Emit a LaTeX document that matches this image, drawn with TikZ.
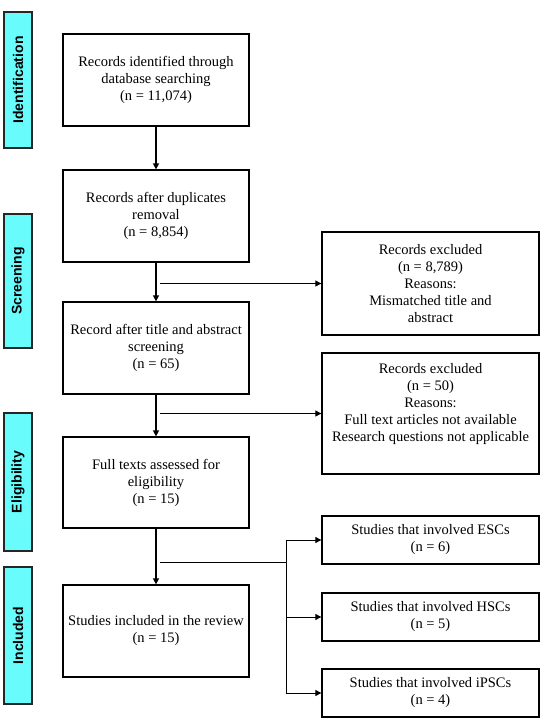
\documentclass[tikz,border=0pt]{standalone}
\usepackage{fontspec}
\setmainfont{Liberation Serif}
\newfontfamily\barfont{Liberation Sans}
\usepackage{xcolor}
\usetikzlibrary{arrows.meta, positioning}
\definecolor{stagecyan}{RGB}{105,252,252}
\tikzset{
	stagebar/.style={draw=black!85, line width=1.4pt, fill=stagecyan, rotate=90, minimum height=28pt, inner sep=0pt, font=\barfont\bfseries\fontsize{14}{17}\selectfont},
	mainbox/.style={draw, line width=1.3pt, minimum width=186pt, align=center, inner sep=2pt, font=\fontsize{14.5}{17}\selectfont},
	sidebox/.style={mainbox, minimum width=217pt},
	trunk/.style={line width=1.5pt, -{Triangle[length=6pt,width=6pt]}},
	branch/.style={line width=0.9pt},
	tip/.style={-{Triangle[length=6pt,width=6pt]}},
}

\begin{document}
\begin{tikzpicture}[x=1pt, y=-1pt]
			\useasboundingbox (0,0) rectangle (547,720);
			% Stages
			\node[stagebar, minimum width=136pt] (ident) at (18,80) {Identification};
			\node[stagebar, minimum width=134pt] (screen) at (18,281) {Screening};
			\node[stagebar, minimum width=138pt] (elig) at (18,482) {Eligibility};
			\node[stagebar, minimum width=137pt] (incl) at (18,635.5) {Included};
			
			% Main column
			\node[mainbox, minimum height=92pt] (found) at (156,80) {Records identified through\\database searching\\(n = 11,074)};
			\node[mainbox, minimum height=92pt] (dedup) at (156,216) {Records after duplicates\\removal\\(n = 8,854)};
			\node[mainbox, minimum height=92pt] (screened) at (156,348) {Record after title and abstract\\screening\\(n = 65)};
			\node[mainbox, minimum height=91pt] (assessed) at (156,482.5) {Full texts assessed for\\eligibility\\(n = 15)};
			\node[mainbox, minimum height=92pt] (included) at (156,631) {Studies included in the review\\(n = 15)};
			
			% Exclusions and groups
			\node[sidebox, minimum height=103pt] (excla) at (430.5,283.5) {Records excluded\\(n = 8,789)\\Reasons:\\Mismatched title and\\abstract};
			\node[sidebox, minimum height=121pt] (exclb) at (430.5,413.5) {Records excluded\\(n = 50)\\Reasons:\\Full text articles not available\\Research questions not applicable\\\strut};
			\node[sidebox, minimum height=48pt] (esc) at (430.5,540) {Studies that involved ESCs\\(n = 6)};
			\node[sidebox, minimum height=48pt] (hsc) at (430.5,617) {Studies that involved HSCs\\(n = 5)};
			\node[sidebox, minimum height=48pt] (ipsc) at (430.5,693) {Studies that involved iPSCs\\(n = 4)};
			
			% Arrows
			\draw[trunk] (found) -- (dedup);
			\draw[trunk] (dedup) -- (screened);
			\draw[trunk] (screened) -- (assessed);
			\draw[trunk] (assessed) -- (included);
			\draw[branch, tip] ([xshift=4pt]dedup.south |- excla.west) -- (excla.west);
			\draw[branch, tip] ([xshift=4pt]screened.south |- exclb.west) -- (exclb.west);
			\coordinate (split) at (286,562);
			\draw[branch] ([xshift=4pt]assessed.south |- split) -- (split);
			\draw[branch] (split |- esc.west) -- (split |- ipsc.west);
			\foreach \g in {esc,hsc,ipsc} {
				\draw[branch, tip] (split |- \g.west) -- (\g.west);
			}
		\end{tikzpicture}
\end{document}
